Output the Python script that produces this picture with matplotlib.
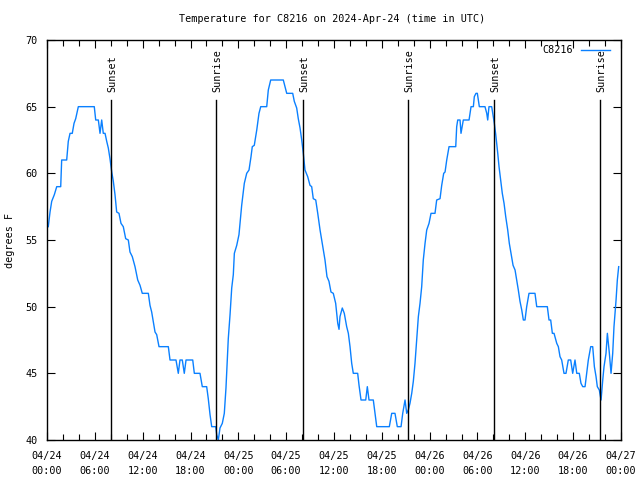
import matplotlib
matplotlib.use("Agg")
import matplotlib.pyplot as plt
from matplotlib.ticker import MultipleLocator, FixedLocator

# ---- data (hours since 2024-04-24 00:00 UTC, degrees F) ----
hours = [
    0.16, 0.38, 0.59, 0.92, 1.22, 1.72, 1.84, 2.47, 2.67, 2.89, 3.17, 3.39, 3.60, 3.93,
    5.93, 6.11, 6.44, 6.65, 6.86, 7.06, 7.28, 7.49, 7.69, 7.90, 8.12, 8.32, 8.53, 8.74,
    9.03, 9.28, 9.57, 9.87, 10.20, 10.41, 10.70, 11.04, 11.38, 11.67, 11.95, 12.71,
    12.92, 13.13, 13.33, 13.55, 13.76, 14.05, 15.22, 15.43, 16.18, 16.47, 16.68, 16.97,
    17.22, 17.44, 18.28, 18.48, 19.19, 19.48, 20.03, 20.23, 20.45, 20.66, 21.16, 21.29,
    21.49, 21.70, 21.99, 22.24, 22.45, 22.74, 22.96, 23.17, 23.37, 23.50, 23.80, 24.08,
    24.42, 24.75, 25.05, 25.34, 25.59, 25.75, 26.00, 26.31, 26.59, 26.81, 27.56, 27.76,
    28.06, 29.64, 29.85, 30.07, 30.82, 31.02, 31.32, 31.52, 31.74, 31.95, 32.15, 32.36,
    32.70, 32.99, 33.20, 33.40, 33.71, 33.96, 34.25, 34.53, 34.87, 35.12, 35.37, 35.62,
    35.91, 36.21, 36.47, 36.63, 36.75, 37.04, 37.29, 37.59, 37.80, 38.01, 38.22, 38.42,
    38.97, 39.14, 39.39, 39.98, 40.18, 40.39, 40.93, 41.14, 41.36, 42.94, 43.24, 43.65,
    43.94, 44.41, 44.62, 44.91, 45.12, 45.32, 45.53, 45.75, 45.95, 46.16, 46.37, 46.58,
    46.79, 47.00, 47.20, 47.42, 47.63, 47.92, 48.17, 48.67, 48.88, 49.30, 49.51, 49.76,
    49.93, 50.14, 50.43, 51.27, 51.39, 51.52, 51.81, 51.93, 52.22, 52.94, 53.19, 53.48,
    53.60, 53.81, 53.98, 54.23, 54.94, 55.16, 55.28, 55.44, 55.78, 55.91, 56.11, 56.29,
    56.54, 56.70, 56.91, 57.11, 57.33, 57.54, 57.79, 57.99, 58.20, 58.46, 58.71, 58.92,
    59.12, 59.33, 59.55, 59.75, 59.96, 60.17, 60.46, 61.21, 61.43, 62.76, 62.97, 63.18,
    63.39, 63.60, 63.94, 64.14, 64.35, 64.56, 64.85, 65.10, 65.39, 65.69, 65.94, 66.23,
    66.45, 66.77, 66.98, 67.20, 67.49, 67.70, 67.90, 68.20, 68.45, 68.66, 68.87, 69.03,
    69.28, 69.50, 69.71, 69.87, 70.12, 70.29, 70.54, 70.75, 70.96, 71.12, 71.38, 71.54,
    71.71,
]
temps = [
    56, 57.1, 57.9, 58.4, 59, 59, 61, 61, 62.4, 63, 63, 63.75, 64.1, 65,
    65, 64, 64, 63, 64, 63, 63, 62.4, 61.9, 61.1, 60.1, 59.4, 58.4, 57.1,
    57, 56.25, 56, 55.1, 55, 54.1, 53.75, 53, 52, 51.6, 51, 51,
    50.1, 49.6, 48.9, 48.1, 47.9, 47, 47, 46, 46, 45, 46, 46,
    45, 46, 46, 45, 45, 44, 44, 43.1, 41.9, 41, 41, 40.4,
    40, 40.9, 41.25, 42, 43.9, 47.6, 49.4, 51.4, 52.4, 54, 54.6, 55.4,
    57.6, 59.25, 60, 60.25, 61.25, 62, 62.1, 63.25, 64.5, 65, 65, 66.25,
    67, 67, 66.5, 66, 66, 65.4, 64.9, 64.1, 63.4, 62.5, 61.5, 60.25,
    59.75, 59.1, 59, 58.1, 58, 57, 55.75, 54.75, 53.5, 52.25, 51.9, 51.1,
    51, 50.25, 48.75, 48.3, 49.25, 49.9, 49.5, 48.5, 48, 47, 45.75, 45,
    45, 44.1, 43, 43, 44, 43, 43, 42, 41, 41, 42, 42,
    41, 41, 42, 43, 42, 42.25, 42.75, 43.5, 44.4, 45.75, 47.5, 49.25,
    50.25, 51.5, 53.5, 54.75, 55.75, 56.25, 57, 57, 58, 58.1, 59.1, 60,
    60.1, 61, 62, 62, 63.5, 64, 64, 63, 64, 64, 65, 65,
    65.75, 66, 66, 65, 65, 64.5, 64, 65, 65, 64.5, 63.75, 62.9,
    61.5, 60.5, 59.5, 58.5, 57.75, 56.75, 55.75, 54.75, 54, 53.1, 52.75, 52,
    51.25, 50.4, 49.75, 49, 49, 50, 51, 51, 50, 50, 49, 49,
    48, 48, 47.25, 47, 46.25, 46, 45, 45, 46, 46, 45, 46,
    45, 45, 44.25, 44, 44, 45, 46, 47, 47, 45.5, 44.75, 44,
    43.75, 43, 44.5, 45.5, 46.5, 48, 46.5, 45, 46.5, 48.5, 50.5, 52,
    53,
]

sun_events = ["Sunset", "Sunrise", "Sunset", "Sunrise", "Sunset", "Sunrise"]
sun_hours = [8.03, 21.24, 32.15, 45.32, 56.11, 69.40]

tick_hours = [0, 6, 12, 18, 24, 30, 36, 42, 48, 54, 60, 66, 72]
tick_labels = ["04/24\n00:00", "04/24\n06:00", "04/24\n12:00", "04/24\n18:00",
               "04/25\n00:00", "04/25\n06:00", "04/25\n12:00", "04/25\n18:00",
               "04/26\n00:00", "04/26\n06:00", "04/26\n12:00", "04/26\n18:00",
               "04/27\n00:00"]
station = "C8216"
title = "Temperature for C8216 on 2024-Apr-24 (time in UTC)"

# ---- plot ----
plt.rcParams['font.family'] = ['DejaVu Sans Mono']
FS = 7.3

fig = plt.figure(figsize=(6.4, 4.8), dpi=100)
ax = fig.add_axes([47/640, 40/480, 574/640, 400/480])

ax.plot(hours, temps, color='#0a80ff', lw=1.0, label=station)

for name, h in zip(sun_events, sun_hours):
    ax.plot([h, h], [40, 65.5], color='black', lw=1.0)
    ax.text(h + 0.15, 66.1, name, rotation=90, ha='center', va='bottom', fontsize=FS)

ax.set_xlim(0, 72)
ax.set_ylim(40, 70)
ax.xaxis.set_major_locator(FixedLocator(tick_hours))
ax.set_xticklabels(tick_labels, fontsize=FS, linespacing=1.6)
ax.xaxis.set_minor_locator(MultipleLocator(2))
ax.yaxis.set_major_locator(MultipleLocator(5))
ax.tick_params(axis='both', which='major', direction='in', length=6, width=0.8,
               top=True, right=True, labelsize=FS, pad=8)
ax.tick_params(axis='x', which='minor', direction='in', length=4, width=0.8, top=True)
ax.tick_params(axis='y', which='major', pad=7)
for s in ax.spines.values():
    s.set_linewidth(1.0)

ax.set_ylabel("degrees F", fontsize=FS)
ax.yaxis.set_label_coords(-32/574, 0.5)
fig.text(332/640, 1 - 19/480, title, ha='center', va='center', fontsize=FS)

ax.legend(loc='upper right', bbox_to_anchor=(1 - 6/574, 1), frameon=False,
          markerfirst=False, fontsize=FS, handlelength=2.9, handletextpad=0.7,
          borderaxespad=0.3, borderpad=0.2)

fig.savefig("out.png", dpi=100)
